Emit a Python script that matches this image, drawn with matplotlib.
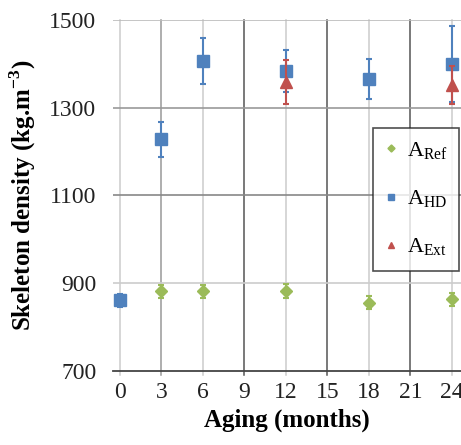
import matplotlib
matplotlib.use("Agg")
import matplotlib.pyplot as plt

plt.rcParams['font.family'] = ['Liberation Serif', 'DejaVu Serif']
plt.rcParams['mathtext.fontset'] = 'custom'
plt.rcParams['mathtext.rm'] = 'Liberation Serif'
plt.rcParams['mathtext.bf'] = 'Liberation Serif:bold'

ref_x = [3, 6, 12, 18, 24]
ref_y = [882, 882, 882, 856, 863]
ref_err = [15, 15, 16, 14, 15]

hd_x = [0, 3, 6, 12, 18, 24]
hd_y = [861, 1228, 1406, 1384, 1365, 1399]
hd_err = [14, 40, 52, 47, 46, 87]

ext_x = [12, 24]
ext_y = [1359, 1352]
ext_err = [50, 44]

xticks = [0, 3, 6, 9, 12, 15, 18, 21, 24]
yticks = [700, 900, 1100, 1300, 1500]

fig = plt.figure(figsize=(4.61, 4.45), dpi=100)
ax = fig.add_axes([113/461, 1-371/445, 348/461, 351/445])
ax.set_xlim(-0.5, 24.65)
ax.set_ylim(700, 1500)

# grid lines
vcol = {0: '#cccccc', 3: '#999999', 6: '#cccccc', 9: '#555555', 12: '#cccccc',
        15: '#555555', 18: '#cccccc', 21: '#555555', 24: '#cccccc'}
for xv in xticks:
    ax.axvline(xv, color=vcol[xv], lw=1.1, zorder=0, clip_on=False, ymin=-0.012, ymax=1)
hcol = {900: '#cccccc', 1100: '#888888', 1300: '#999999', 1500: '#bbbbbb'}
for yv in [900, 1100, 1300, 1500]:
    ax.axhline(yv, color=hcol[yv], lw=1.2, zorder=0)

for s in ['top', 'right', 'left']:
    ax.spines[s].set_visible(False)
ax.spines['bottom'].set_color('#444444')
ax.spines['bottom'].set_linewidth(1.3)

ax.set_xticks(xticks)
ax.set_yticks(yticks)
ax.tick_params(axis='both', length=0, labelsize=17, colors='#222222', pad=8)
ax.tick_params(axis='y', pad=12)

ax.errorbar(ref_x, ref_y, yerr=ref_err, fmt='D', color='#9BBB59', ms=6,
            ecolor='#9BBB59', elinewidth=1.5, capsize=2.5, capthick=1.5,
            label=r'A$_{\mathrm{Ref}}$', zorder=3)
ax.errorbar(hd_x, hd_y, yerr=hd_err, fmt='s', color='#4F81BD', ms=8,
            ecolor='#4F81BD', elinewidth=1.5, capsize=2.5, capthick=1.5,
            label=r'A$_{\mathrm{HD}}$', zorder=3)
ax.errorbar(ext_x, ext_y, yerr=ext_err, fmt='^', color='#C0504D', ms=8,
            ecolor='#C0504D', elinewidth=1.5, capsize=2.5, capthick=1.5,
            label=r'A$_{\mathrm{Ext}}$', zorder=4)

handles, labels = ax.get_legend_handles_labels()
hs = [h[0] for h in handles]
x0 = (373 - 113) / 348
y1 = 1 - (128 - 20) / 351
leg = ax.legend(hs, labels, loc='upper left', bbox_to_anchor=(x0, y1 - 0.39, 0.248, 0.39),
                mode='expand',
                frameon=True, fancybox=False, fontsize=16, markerscale=0.6,
                handlelength=0.5, handletextpad=0.5, labelspacing=1.2,
                borderpad=0.55, borderaxespad=0)
leg.get_frame().set_edgecolor('#222222')
leg.get_frame().set_linewidth(1.2)

ax.set_xlabel('Aging (months)', fontsize=18, fontweight='bold', labelpad=4)
ax.set_ylabel(r'Skeleton density (kg.m$^{\mathbf{-3}}$)', fontsize=18, fontweight='bold', labelpad=8)

fig.savefig('out.png', dpi=100)
